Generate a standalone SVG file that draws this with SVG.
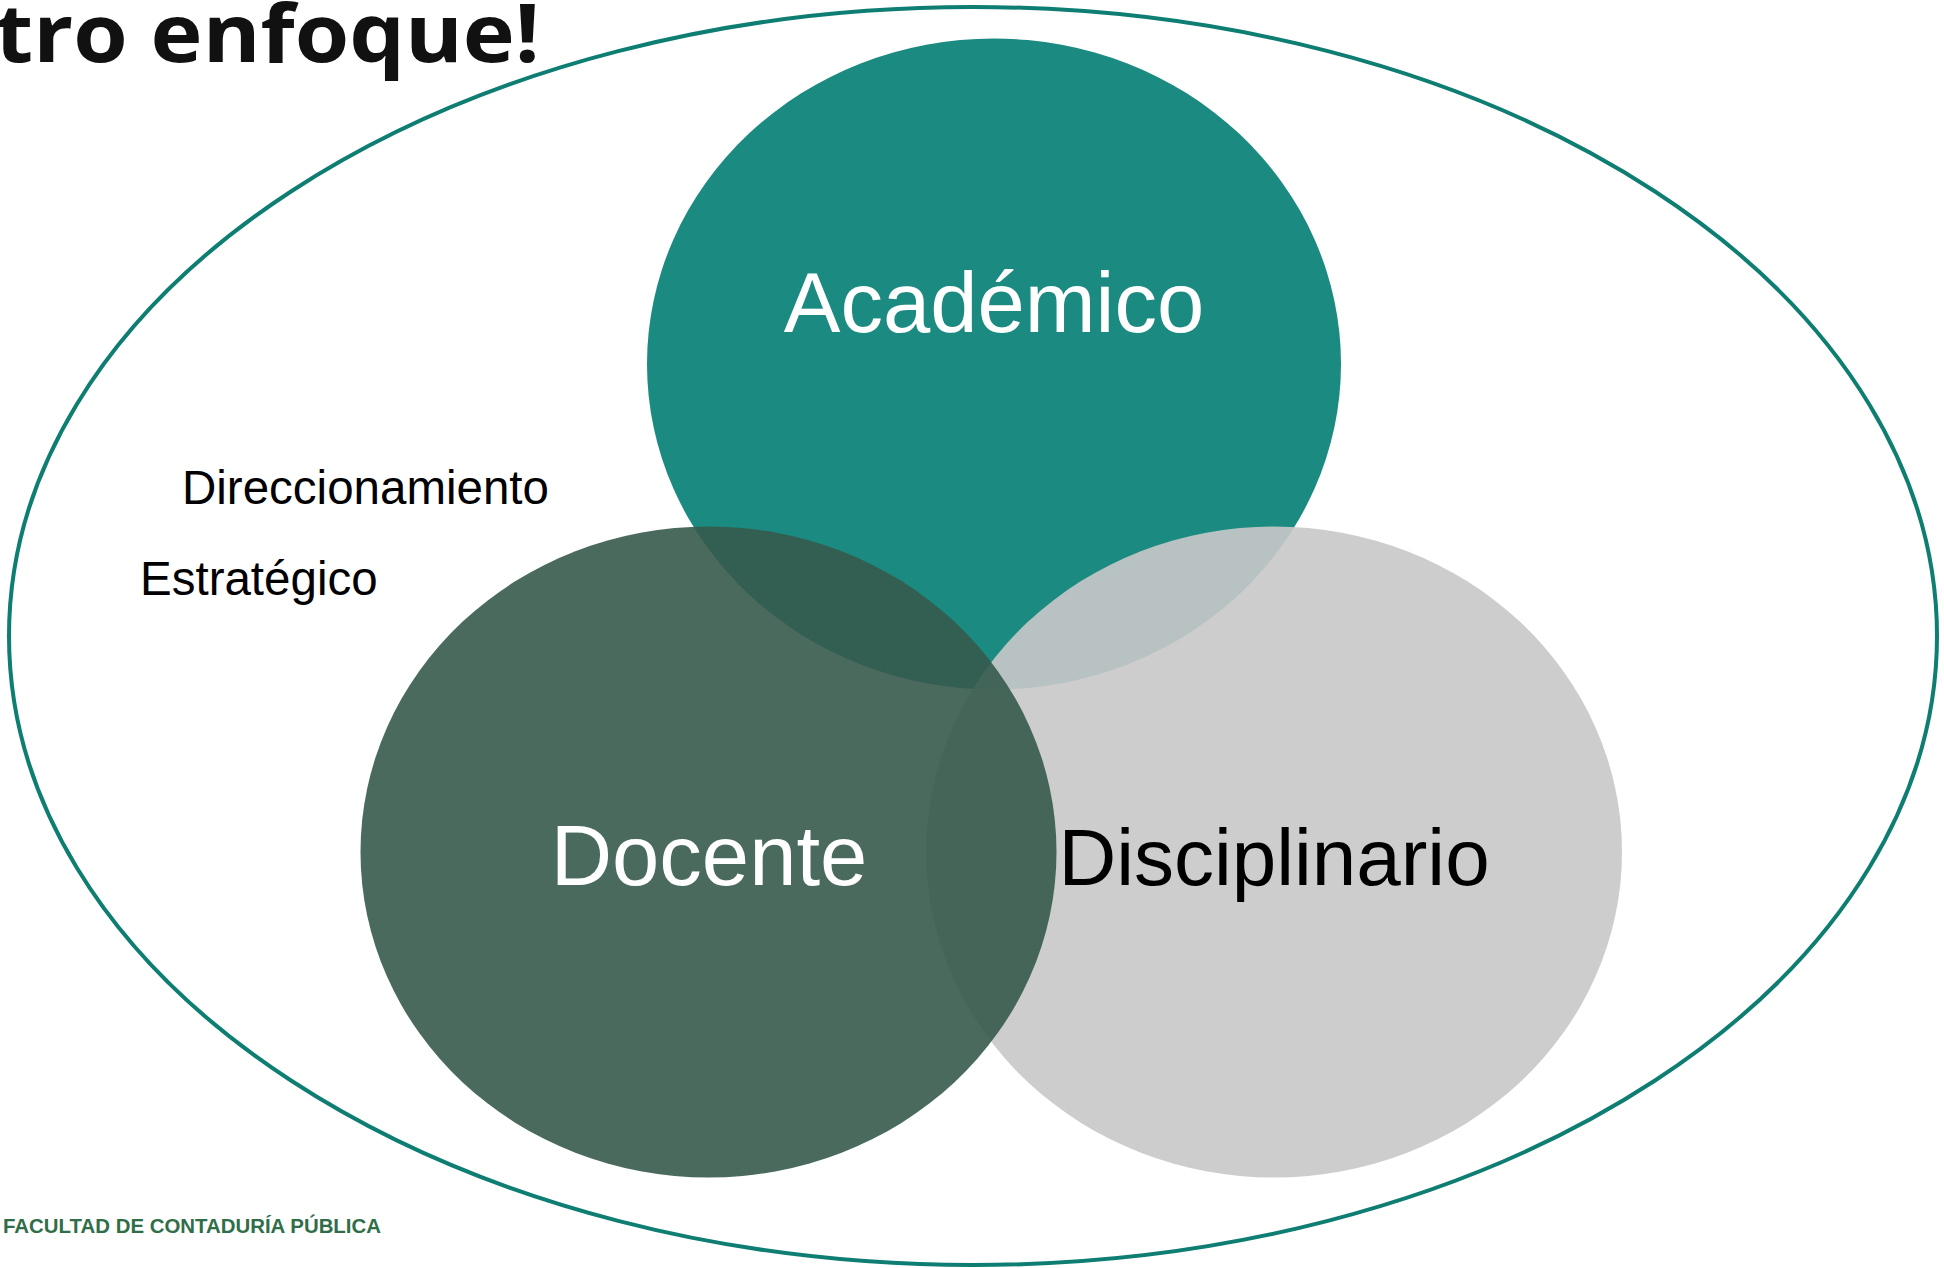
<svg xmlns="http://www.w3.org/2000/svg" width="1944" height="1268" viewBox="0 0 1944 1268">
<style>
.lbl{font-family:"Liberation Sans",Arial,sans-serif;text-anchor:middle}
.side{font-family:"Liberation Sans",Arial,sans-serif;font-size:47.5px;fill:#000}
</style>
<rect width="1944" height="1268" fill="#fff"/>
<g id="outer">
<ellipse cx="973" cy="636" rx="964" ry="629" fill="none" stroke="#0E7D72" stroke-width="4"/>
</g>
<g id="title">
<text x="-5" y="62" font-family="'Open Sans','Noto Sans',sans-serif" font-weight="bold" font-size="81" fill="#111" textLength="545" lengthAdjust="spacingAndGlyphs">tro enfoque!</text>
</g>
<g id="academico">
<ellipse cx="994" cy="364" rx="347" ry="325.5" fill="#027D72" fill-opacity="0.9"/>
</g>
<g id="disciplinario">
<ellipse cx="1274" cy="852" rx="348" ry="325.5" fill="#C8C8C8" fill-opacity="0.91"/>
</g>
<g id="docente">
<ellipse cx="708.5" cy="852" rx="348" ry="325.5" fill="#365A4D" fill-opacity="0.9"/>
</g>
<g id="labels">
<text class="lbl" x="994" y="332" font-size="85" fill="#fff">Académico</text>
<text class="lbl" x="709" y="885" font-size="85" fill="#fff">Docente</text>
<text class="lbl" x="1274" y="885" font-size="80" fill="#000">Disciplinario</text>
</g>
<g id="direccionamiento">
<text class="side" x="182" y="504">Direccionamiento</text>
<text class="side" x="140" y="595">Estratégico</text>
</g>
<g id="connectors"></g>
<g id="footer">
<text x="3" y="1233" font-family="'Liberation Sans',Arial,sans-serif" font-weight="bold" font-size="21" fill="#2F6E48" textLength="378" lengthAdjust="spacingAndGlyphs">FACULTAD DE CONTADURÍA PÚBLICA</text>
</g>
</svg>
